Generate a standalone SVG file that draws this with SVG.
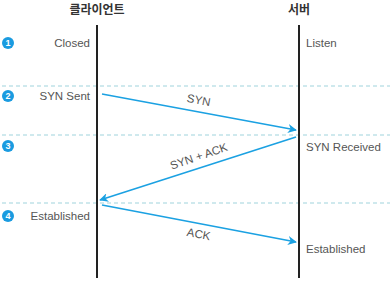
<svg xmlns="http://www.w3.org/2000/svg" width="390" height="282" viewBox="0 0 390 282">
<defs>
<marker id="ah" viewBox="0 0 10 10" refX="9" refY="5" markerWidth="9" markerHeight="9" markerUnits="userSpaceOnUse" orient="auto">
<path d="M0,0 L10,5 L0,10 L3,5 Z" fill="#1ba1e2"/>
</marker>
</defs>
<style>
.t{font-family:"Liberation Sans",Arial,sans-serif;font-size:11.5px;fill:#555}
.h{font-family:"Noto Sans CJK KR","Noto Sans",sans-serif;font-size:12px;font-weight:bold;fill:#333}
.dash{stroke:#9fd3dc;stroke-width:1;stroke-dasharray:4,3}
.life{stroke:#222;stroke-width:2}
.msg{stroke:#1ba1e2;stroke-width:1.6;fill:none;marker-end:url(#ah)}
.num{fill:#1a9be0}
.nt{font-family:"Liberation Sans",Arial,sans-serif;font-size:9px;font-weight:bold;fill:#fff}
</style>
<rect width="390" height="282" fill="#fff"/>
<g id="dividers">
<line class="dash" x1="2" y1="86" x2="390" y2="86"/>
<line class="dash" x1="2" y1="135" x2="390" y2="135"/>
<line class="dash" x1="2" y1="203" x2="390" y2="203"/>
</g>
<g id="client">
<text class="h" x="97" y="14" text-anchor="middle">클라이언트</text>
<line class="life" x1="97" y1="25" x2="97" y2="278"/>
<text class="t" x="90" y="47" text-anchor="end">Closed</text>
<text class="t" x="90" y="100" text-anchor="end">SYN Sent</text>
<text class="t" x="90" y="220" text-anchor="end">Established</text>
</g>
<g id="server">
<text class="h" x="299" y="14" text-anchor="middle">서버</text>
<line class="life" x1="299" y1="25" x2="299" y2="278"/>
<text class="t" x="306" y="47">Listen</text>
<text class="t" x="306" y="151">SYN Received</text>
<text class="t" x="306" y="253">Established</text>
</g>
<g id="steps">
<circle class="num" cx="8" cy="43" r="6"/><text class="nt" x="8" y="46.2" text-anchor="middle">1</text>
<circle class="num" cx="8" cy="96" r="6"/><text class="nt" x="8" y="99.2" text-anchor="middle">2</text>
<circle class="num" cx="8" cy="146" r="6"/><text class="nt" x="8" y="149.2" text-anchor="middle">3</text>
<circle class="num" cx="8" cy="216" r="6"/><text class="nt" x="8" y="219.2" text-anchor="middle">4</text>
</g>
<g id="connectors">
<line class="msg" x1="102" y1="94" x2="296" y2="130"/>
<line class="msg" x1="296" y1="137" x2="100" y2="200"/>
<line class="msg" x1="102" y1="205" x2="296" y2="242"/>
<text class="t" transform="translate(198,104) rotate(10.5)" text-anchor="middle">SYN</text>
<text class="t" transform="translate(200,160) rotate(-19)" text-anchor="middle">SYN + ACK</text>
<text class="t" transform="translate(198,238) rotate(10.5)" text-anchor="middle">ACK</text>
</g>
</svg>
